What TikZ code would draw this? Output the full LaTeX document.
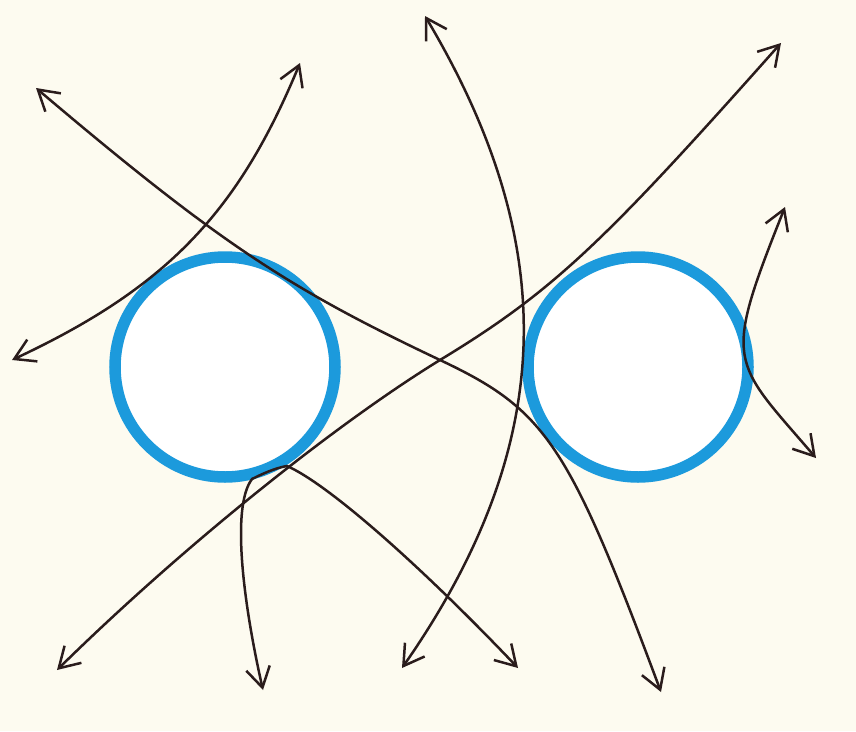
\documentclass[tikz,border=0pt]{standalone}
\usepackage{xcolor}
\usepackage{tikz}
\usetikzlibrary{arrows.meta}
\definecolor{paper}{RGB}{253,251,240}
\definecolor{lensblue}{RGB}{28,154,220}
\definecolor{inkbrown}{RGB}{42,28,28}

\begin{document}
\begin{tikzpicture}[x=1pt, y=-1pt, lensring/.style={circle, draw=lensblue, fill=white, line width=11.5pt, minimum size=220pt, inner sep=0pt}, ray/.style={{Straight Barb[length=20pt,width=24pt]}-{Straight Barb[length=20pt,width=24pt]}, draw=inkbrown, line width=2.5pt}]
\fill[paper] (0,0) rectangle (856,731);
\useasboundingbox (0,0) rectangle (856,731);
\node[lensring] (lensL) at (225,367) {};
\node[lensring] (lensR) at (638,367) {};
% ray ends
\coordinate (aN) at (36,88);
\coordinate (aS) at (661,692);
\coordinate (bW) at (12,360);
\coordinate (bN) at (300,63);
\coordinate (cN) at (425,16);
\coordinate (cS) at (402,668);
\coordinate (dS) at (57,670);
\coordinate (dN) at (781,43);
\coordinate (eS) at (263,690);
\coordinate (eE) at (518,668);
\coordinate (gN) at (785,207);
\coordinate (gS) at (816,458);
% crossing between the lenses, and where the lower ray hugs the left lens
\coordinate (mid) at (440,360);
\coordinate (hugL) at (252,479);
\coordinate (hugR) at (287,466);
\draw[ray] (aN) .. controls (220,244) and (290,289) .. (mid) .. controls (546,410) and (568,443) .. (aS);
\draw[ray] (bW) .. controls (166,288) and (238,213) .. (bN);
\draw[ray] (cN) .. controls (563,248) and (556,447) .. (cS);
\draw[ray] (dS) .. controls (178,551) and (331,427) .. (mid) .. controls (554,291) and (605,241) .. (dN);
\draw[ray] (eS) .. controls (245,611) and (230,508) .. (hugL) .. controls (262,474) and (275,468) .. (hugR) .. controls (328,484) and (420,565) .. (eE);
\draw[ray] (gN) .. controls (722,365) and (731,359) .. (gS);
\end{tikzpicture}
\end{document}
